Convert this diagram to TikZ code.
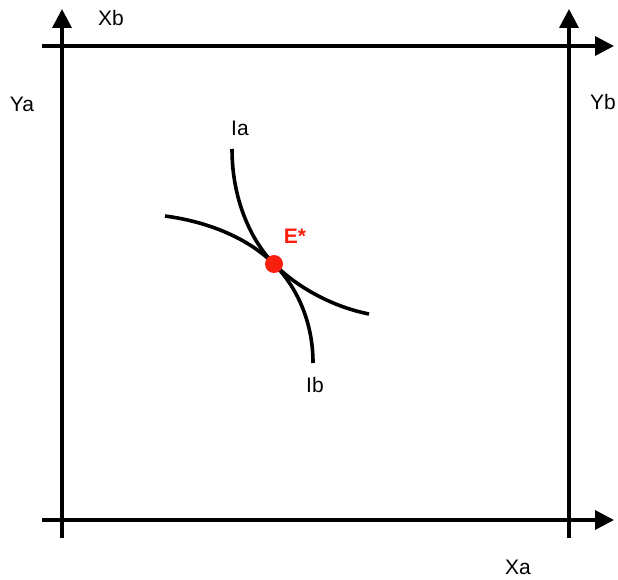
\documentclass[tikz,border=0pt]{standalone}
\usepackage{fontspec}
\setmainfont{Liberation Sans}
\usetikzlibrary{arrows.meta}
\definecolor{eqred}{RGB}{250,30,15}
\tikzset{
  axis/.style={line width=3.6pt,-{Triangle[length=19pt,width=19pt]}},
  curve/.style={line width=3.6pt},
  lbl/.style={font=\fontsize{21}{25}\selectfont, inner sep=0pt},
  eqlbl/.style={font=\fontsize{21}{25}\selectfont\bfseries, text=eqred, inner sep=0pt},
}
\begin{document}
\begin{tikzpicture}[x=1pt,y=-1pt]
\useasboundingbox (0,0) rectangle (618,580);
% axis end points
\coordinate (lb) at (62,538);
\coordinate (lt) at (62,9);
\coordinate (rb) at (569,538);
\coordinate (rt) at (569,9);
\coordinate (tl) at (42,46);
\coordinate (tr) at (614,46);
\coordinate (bl) at (42,520);
\coordinate (br) at (614,520);
\draw[axis] (lb) -- (lt);
\draw[axis] (rb) -- (rt);
\draw[axis] (tl) -- (tr);
\draw[axis] (bl) -- (br);
% curves
\coordinate (E) at (274,264);
\coordinate (a0) at (232,149);
\coordinate (a1) at (369,314);
\coordinate (b0) at (165,216);
\coordinate (b1) at (313,363);
\draw[curve] (a0) .. controls (232,205) and (255,245) .. (E)
                  .. controls (295,285) and (329,306) .. (a1);
\draw[curve] (b0) .. controls (210,222) and (249,239) .. (E)
                  .. controls (294,284) and (313,318) .. (b1);
\fill[eqred] (E) circle (9);
% labels
\node[lbl] (xb) at (111,18) {Xb};
\node[lbl] (ya) at (22,104) {Ya};
\node[lbl] (yb) at (603,102) {Yb};
\node[lbl] (xa) at (518,567) {Xa};
\node[lbl] (ia) at (240,128) {Ia};
\node[lbl] (ib) at (315,385) {Ib};
\node[eqlbl] (es) at (295,236) {E*};
\end{tikzpicture}
\end{document}
